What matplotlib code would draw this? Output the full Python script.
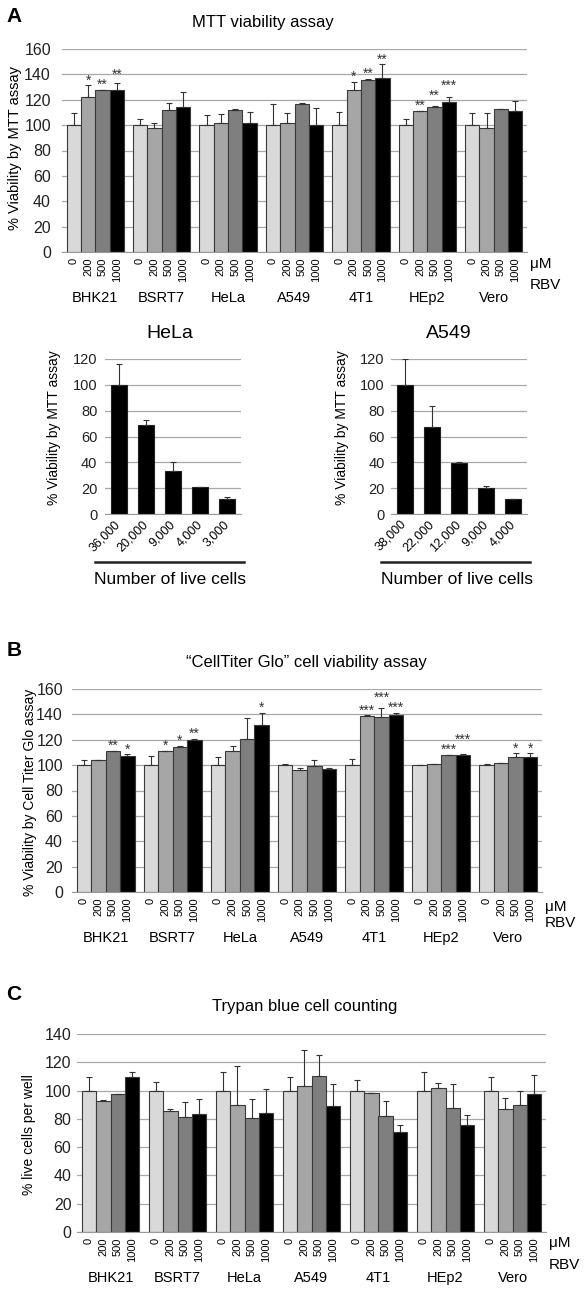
import matplotlib.pyplot as plt
import matplotlib.transforms as mtransforms
import numpy as np

plt.rcParams['font.family'] = ['Liberation Sans', 'DejaVu Sans']

W, H = 585, 1293

cell_lines = ['BHK21', 'BSRT7', 'HeLa', 'A549', '4T1', 'HEp2', 'Vero']
doses = ['0', '200', '500', '1000']
dose_colors = ['#d9d9d9', '#a6a6a6', '#7f7f7f', '#000000']

# panel A - MTT (rows = cell lines, cols = doses)
mtt_mean = [[100, 122, 127.5, 127.5],
            [100, 98, 112, 114.5],
            [100, 101.5, 111.8, 102],
            [100, 102, 116.6, 100],
            [100, 128, 135.5, 137],
            [100, 110.8, 114.5, 118.4],
            [100, 97.4, 112.4, 111]]
mtt_err = [[9.2, 9.3, 0.3, 6],
           [5, 3.5, 5.3, 12],
           [8, 7.6, 0.6, 8.4],
           [17, 7.6, 0.8, 13.7],
           [10, 6, 0.8, 11],
           [4.7, 0.5, 0.4, 3.4],
           [9.2, 11.8, 0.5, 8]]
mtt_stars = [['', '*', '**', '**'],
             ['', '', '', ''],
             ['', '', '', ''],
             ['', '', '', ''],
             ['', '*', '**', '**'],
             ['', '**', '**', '***'],
             ['', '', '', '']]

# panel A - cell number calibration
hela_cells = ['36,000', '20,000', '9,000', '4,000', '3,000']
hela_mean = [100, 69.2, 33, 20.8, 11.6]
hela_err = [16, 3.6, 7, 0, 1.3]
a549_cells = ['38,000', '22,000', '12,000', '9,000', '4,000']
a549_mean = [100, 67, 39.5, 20.1, 11.6]
a549_err = [20, 17, 0.8, 1.2, 0]

# panel B - CellTiter Glo
ctg_mean = [[100, 103.7, 110.8, 107.4],
            [100, 110.8, 114.5, 119.8],
            [100, 111.3, 120.6, 131.9],
            [100, 96.3, 99.2, 96.6],
            [100, 138.8, 138.3, 139.8],
            [100, 100.5, 107.7, 108.2],
            [100, 102, 106.5, 106.5]]
ctg_err = [[3.7, 0.2, 0.5, 1],
           [7.4, 0.3, 0.5, 0.8],
           [6.6, 4, 16.6, 9.3],
           [1, 1.3, 5, 1.3],
           [4.5, 0.5, 7.1, 1.6],
           [0, 0.3, 0.3, 0.3],
           [0.5, 0, 2.9, 2.9]]
ctg_stars = [['', '', '**', '*'],
             ['', '*', '*', '**'],
             ['', '', '', '*'],
             ['', '', '', ''],
             ['', '***', '***', '***'],
             ['', '', '***', '***'],
             ['', '', '*', '*']]

# panel C - trypan blue
trypan_mean = [[100, 92.7, 97.6, 109.4],
               [100, 85.9, 81.2, 83.5],
               [100, 90.1, 80.5, 84],
               [100, 103.3, 110.4, 89.2],
               [100, 98.1, 82.1, 70.4],
               [100, 102.1, 88, 76],
               [100, 87.3, 90.1, 97.6]]
trypan_err = [[9.9, 0.3, 0.2, 3.5],
              [5.9, 1.4, 10.8, 10.6],
              [13.4, 27.5, 13.6, 17.4],
              [9.4, 25.2, 15, 15.3],
              [7.8, 0.2, 10.8, 5.1],
              [12.9, 3.5, 16.7, 6.4],
              [9.9, 7.1, 9.9, 13.2]]


def box(l, t, r, b):
    return [l / W, 1 - b / H, (r - l) / W, (b - t) / H]


def style_axis(ax, ymax, ypad):
    ax.set_ylim(0, ymax)
    ax.set_yticks(range(0, ymax + 1, 20))
    ax.yaxis.grid(True, color='#a8a8a8', linewidth=0.9)
    ax.set_axisbelow(True)
    for s in ['left', 'top', 'right']:
        ax.spines[s].set_visible(False)
    ax.spines['bottom'].set_color('#999999')
    ax.tick_params(axis='both', length=0)
    ax.tick_params(axis='y', labelsize=11.5, pad=ypad, labelcolor='#222222')


def dose_panel(ax, means, errs, stars, ymax, ypad, lab_y, um_y, rbv_y):
    means = np.array(means)
    errs = np.array(errs)
    n = len(cell_lines)
    w = 0.216
    offs = (np.arange(4) - 1.5) * w
    for k in range(4):
        x = np.arange(n) + offs[k]
        ax.bar(x, means[:, k], w, color=dose_colors[k], edgecolor='#3a3a3a',
               linewidth=0.8, zorder=2)
        ax.errorbar(x, means[:, k], yerr=[np.zeros(n), errs[:, k]], fmt='none',
                    ecolor='#333333', elinewidth=0.8, capsize=2, capthick=0.8, zorder=3)
    ticks = (np.arange(n)[:, None] + offs[None, :]).ravel()
    ax.set_xticks(ticks)
    ax.set_xticklabels(doses * n, rotation=90, fontsize=8)
    ax.tick_params(axis='x', pad=4)
    ax.set_xlim(-0.5, n - 0.5)
    style_axis(ax, ymax, ypad)

    trans = mtransforms.blended_transform_factory(ax.transData, ax.transAxes)
    for i, name in enumerate(cell_lines):
        ax.text(i, lab_y, name, transform=trans, ha='center', va='center', fontsize=10.5)
    ax.text(1.006, um_y, 'μM', transform=ax.transAxes, ha='left', va='center', fontsize=11)
    ax.text(1.006, rbv_y, 'RBV', transform=ax.transAxes, ha='left', va='center', fontsize=11)

    if stars is None:
        return
    step = 8
    for i in range(n):
        tops = means[i] + errs[i]
        ys = list(tops)
        for j in range(1, 4):
            a, b = stars[i][j - 1], stars[i][j]
            if a and b and len(a) + len(b) >= 4 and abs(ys[j] - ys[j - 1]) < step:
                if ys[j] >= ys[j - 1]:
                    ys[j] = ys[j - 1] + step
                else:
                    ys[j - 1] = ys[j] + step
        for j in range(4):
            if stars[i][j]:
                ax.annotate(stars[i][j], (i + offs[j], ys[j]), xytext=(0, -1.5),
                            textcoords='offset points', ha='center', va='bottom',
                            fontsize=10, color='#333333')


def count_panel(ax, labels, means, errs, ypad):
    x = np.arange(len(labels))
    ax.bar(x, means, 0.59, color='#000000', edgecolor='#222222', linewidth=0.8, zorder=2)
    ax.errorbar(x, means, yerr=[np.zeros(len(x)), errs], fmt='none', ecolor='#333333',
                elinewidth=0.8, capsize=2, capthick=0.8, zorder=3)
    ax.set_xlim(-0.5, len(x) - 0.5)
    ax.set_xticks(x)
    ax.set_xticklabels(labels, rotation=45, ha='right', va='center',
                       rotation_mode='anchor', fontsize=9)
    ax.tick_params(axis='x', pad=6)
    style_axis(ax, 120, ypad)
    ax.tick_params(axis='y', labelsize=10.5)
    ax.plot([-0.074, 1.022], [-0.31, -0.31], transform=ax.transAxes, color='#222222',
            linewidth=1.8, clip_on=False)


fig = plt.figure(figsize=(W / 100, H / 100), dpi=100)

# panel A
axA = fig.add_axes(box(62, 49, 527, 252))
dose_panel(axA, mtt_mean, mtt_err, mtt_stars, 160, 8, -0.227, -0.059, -0.163)
fig.text(14 / W, 1 - 16 / H, 'A', fontsize=15, fontweight='bold', ha='center', va='center')
fig.text(263 / W, 1 - 22 / H, 'MTT viability assay', fontsize=12, ha='center', va='center')
fig.text(15 / W, 1 - 148 / H, '% Viability by MTT assay', rotation=90, fontsize=10.5,
         ha='center', va='center')

axH = fig.add_axes(box(105, 359, 241, 514))
count_panel(axH, hela_cells, hela_mean, hela_err, 5.5)
axL = fig.add_axes(box(391, 359, 527, 514))
count_panel(axL, a549_cells, a549_mean, a549_err, 4.5)
for xc, name in [(170, 'HeLa'), (449, 'A549')]:
    fig.text(xc / W, 1 - 333 / H, name, fontsize=14, ha='center', va='center')
for xc in [170, 457]:
    fig.text(xc / W, 1 - 580 / H, 'Number of live cells', fontsize=12.5, ha='center', va='center')
for xc in [54, 342]:
    fig.text(xc / W, 1 - 428 / H, '% Viability by MTT assay', rotation=90, fontsize=10,
             ha='center', va='center')

# panel B
axB = fig.add_axes(box(72, 689, 542, 892))
dose_panel(axB, ctg_mean, ctg_err, ctg_stars, 160, 6.5, -0.227, -0.074, -0.153)
fig.text(14 / W, 1 - 650 / H, 'B', fontsize=15, fontweight='bold', ha='center', va='center')
fig.text(306 / W, 1 - 662 / H, '\u201cCellTiter Glo\u201d cell viability assay', fontsize=12,
         ha='center', va='center')
fig.text(30 / W, 1 - 792 / H, '% Viability by Cell Titer Glo assay', rotation=90, fontsize=10,
         ha='center', va='center')

# panel C
axC = fig.add_axes(box(77, 1034, 546, 1232))
dose_panel(axC, trypan_mean, trypan_err, None, 140, 4, -0.232, -0.056, -0.167)
fig.text(14 / W, 1 - 995 / H, 'C', fontsize=15, fontweight='bold', ha='center', va='center')
fig.text(305 / W, 1 - 1007 / H, 'Trypan blue cell counting', fontsize=12,
         ha='center', va='center')
fig.text(29 / W, 1 - 1135 / H, '% live cells per well', rotation=90, fontsize=10,
         ha='center', va='center')

fig.savefig('out.png', dpi=100)
